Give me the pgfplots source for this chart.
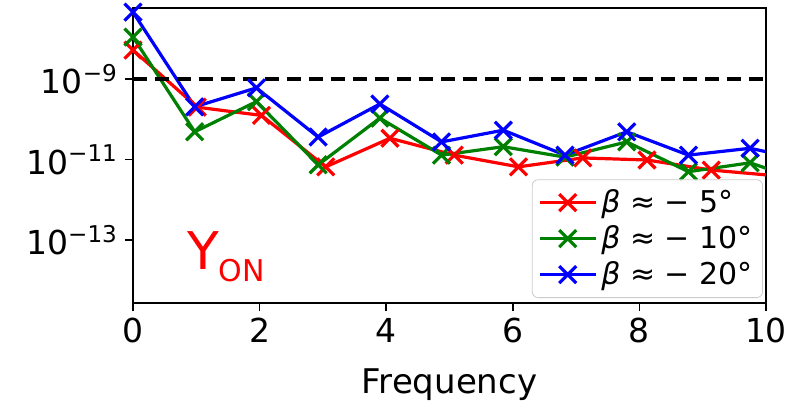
\documentclass[border=0pt]{standalone}
\usepackage{fontspec}
\setmainfont{DejaVu Sans}
\usepackage{pgfplots}
\pgfplotsset{compat=1.18}

\definecolor{mpred}{rgb}{1,0,0}
\definecolor{mpgreen}{rgb}{0,0.5,0}
\definecolor{mpblue}{rgb}{0,0,1}

\begin{document}
\begin{tikzpicture}
\begin{axis}[
    scale only axis,
    width=316.5pt, height=147.5pt,
    ymode=log,
    xmin=0, xmax=10,
    ymin=2.75e-15, ymax=5.8e-8,
    xtick={0,2,4,6,8,10},
    ytick={1e-13,1e-11,1e-9},
    yticklabels={10\textsuperscript{−13},10\textsuperscript{−11},10\textsuperscript{−9}},
    minor ytick={},
    tick align=outside,
    major tick length=4pt,
    xtick pos=bottom, ytick pos=left,
    tick style={black, line width=0.8pt},
    axis line style={line width=1.3pt},
    ticklabel style={font=\fontsize{16.5}{16.5}\selectfont},
    /pgf/number format/assume math mode=true,
    xlabel={Frequency},
    xlabel style={font=\fontsize{17}{17}\selectfont, yshift=-6pt},
    legend style={at={(1,0)}, anchor=south east, xshift=-1.5pt, yshift=2.5pt,
        font=\fontsize{15}{16}\selectfont, draw=black!20, fill=white, fill opacity=0.8,
        text opacity=1, rounded corners=3pt, inner sep=3pt, row sep=1pt},
    legend cell align=left,
    every axis plot/.append style={line width=1.6pt, mark=x, mark size=6pt},
    legend image code/.code={
        \draw[#1, mark repeat=2, mark phase=2] plot coordinates {(0pt,0pt) (14pt,0pt) (28pt,0pt)};
    },
]
\addplot[mpred] coordinates {
    (0,5.25e-9) (1.015,2.00e-10) (2.03,1.25e-10) (3.045,6.6e-12) (4.06,3.39e-11)
    (5.075,1.29e-11) (6.09,6.61e-12) (7.105,1.10e-11) (8.12,9.77e-12)
    (9.135,5.50e-12) (10.15,3.98e-12)
};
\addlegendentry{\textit{β} ≈ − 5°}
\addplot[mpgreen] coordinates {
    (0,1.10e-8) (0.975,4.90e-11) (1.95,2.75e-10) (2.925,7.41e-12) (3.90,1.07e-10)
    (4.875,1.29e-11) (5.85,2.09e-11) (6.825,1.15e-11) (7.80,2.75e-11)
    (8.775,5.01e-12) (9.75,8.32e-12) (10.725,2.5e-12)
};
\addlegendentry{\textit{β} ≈ − 10°}
\addplot[mpblue] coordinates {
    (0,4.57e-8) (0.975,2.04e-10) (1.95,6.03e-10) (2.925,3.63e-11) (3.90,2.4e-10)
    (4.875,2.75e-11) (5.85,5.37e-11) (6.825,1.29e-11) (7.80,4.90e-11)
    (8.775,1.29e-11) (9.75,1.91e-11) (10.725,8.9e-12)
};
\addlegendentry{\textit{β} ≈ − 20°}
\addplot[black, line width=1.6pt, mark=none, dash pattern=on 7pt off 4pt, forget plot]
    coordinates {(0,1e-9) (10,1e-9)};
\node[anchor=base west, inner sep=0pt, text=mpred, font=\fontsize{26}{26}\selectfont]
    at (rel axis cs:0.085,0.112) {Y\raisebox{-6pt}{\fontsize{15}{15}\selectfont ON}};
\end{axis}
\path (current axis.south west) +(-66.5pt,-52.5pt) rectangle +(330.5pt,151.5pt);
\end{tikzpicture}
\end{document}
